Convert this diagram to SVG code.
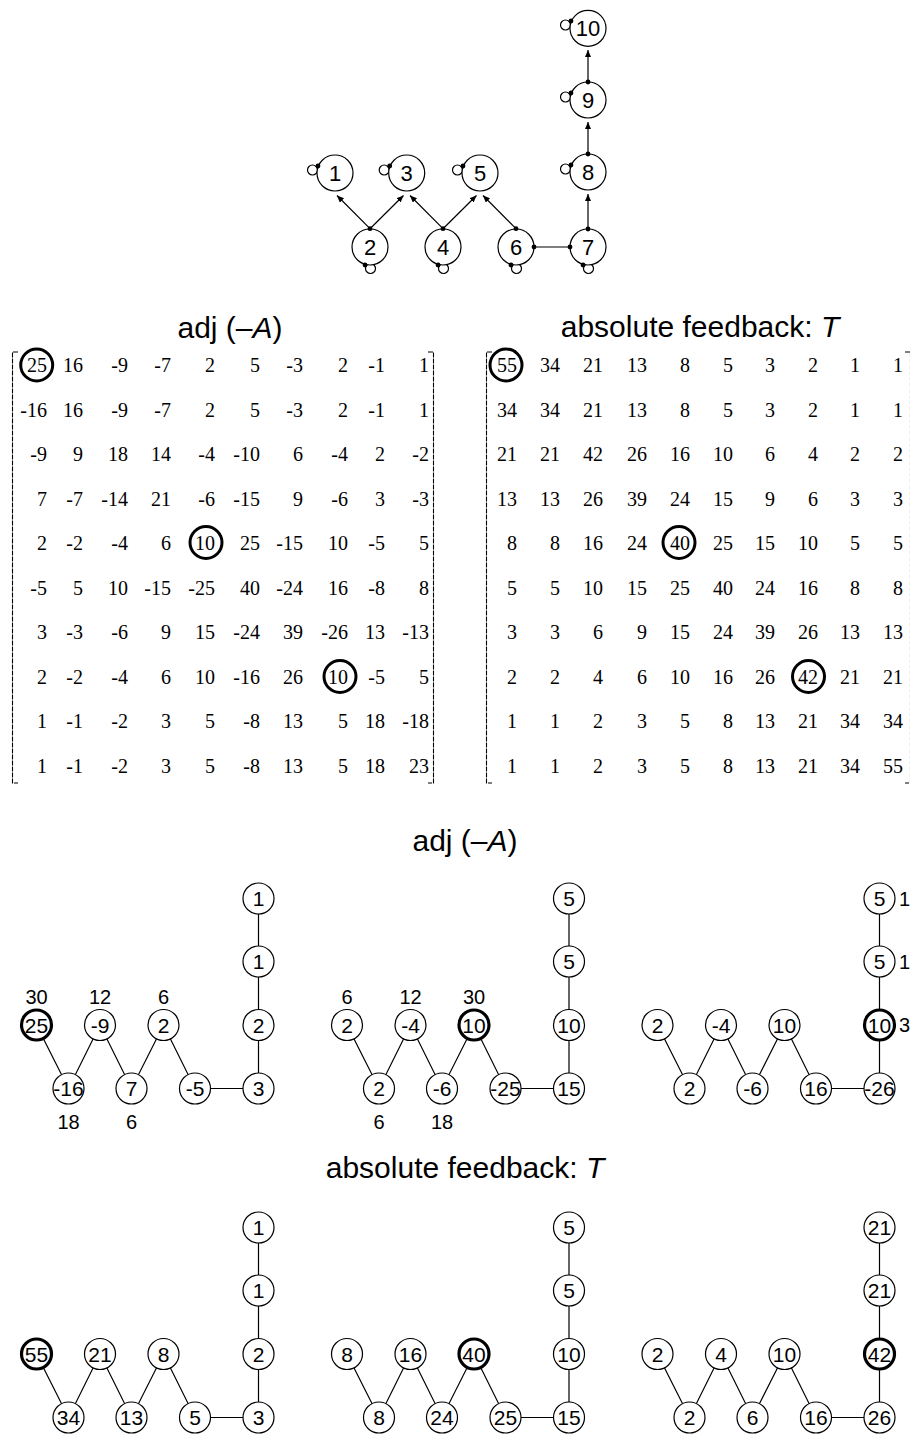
<svg xmlns="http://www.w3.org/2000/svg" width="910" height="1435" viewBox="0 0 910 1435">
<style>
.title{font-family:"Liberation Sans",Arial,sans-serif;font-size:30px;text-anchor:middle;fill:#000}
.nc{fill:#fff;stroke:#000;stroke-width:1.2}
.thick{fill:#fff;stroke:#000;stroke-width:3.2}
.nt{font-family:"Liberation Sans",Arial,sans-serif;font-size:21px;text-anchor:middle;fill:#000}
.tt{font-family:"Liberation Sans",Arial,sans-serif;font-size:22px;text-anchor:middle;fill:#000}
.lb{font-family:"Liberation Sans",Arial,sans-serif;font-size:20px;text-anchor:middle;fill:#000}
.lbl{font-family:"Liberation Sans",Arial,sans-serif;font-size:20px;fill:#000}
.e{stroke:#000;stroke-width:1.2;fill:none}
.loop{fill:none;stroke:#000;stroke-width:1.2}
.dot{fill:#000}
.mx{font-family:"Liberation Serif","Times New Roman",serif;font-size:20px;text-anchor:end;fill:#000}
.br{fill:none;stroke:#000;stroke-width:1.1;stroke-dasharray:5 1}
.ring{fill:none;stroke:#000;stroke-width:3}
</style>
<defs>
<marker id="arr" markerUnits="userSpaceOnUse" markerWidth="8" markerHeight="7" refX="7" refY="3" orient="auto">
<path d="M0,0 L7,3 L0,6 z" fill="#000"/>
</marker>
</defs>

<!-- ===== Top graph ===== -->
<g id="top-graph">
<g id="top-loops">
<circle class="loop" cx="312.5" cy="170" r="5"/>
<circle class="loop" cx="384.2" cy="170" r="5"/>
<circle class="loop" cx="457.5" cy="170" r="5"/>
<circle class="loop" cx="565.5" cy="169" r="5"/>
<circle class="loop" cx="565.5" cy="97" r="5"/>
<circle class="loop" cx="565.5" cy="25" r="5"/>
<circle class="loop" cx="370.5" cy="268.5" r="5"/>
<circle class="loop" cx="443.5" cy="268.5" r="5"/>
<circle class="loop" cx="516.5" cy="268.5" r="5"/>
<circle class="loop" cx="588.5" cy="268.5" r="5"/>
</g>
<g id="top-connectors">
<line class="e" x1="370" y1="228.7" x2="337" y2="195.5" marker-end="url(#arr)"/>
<line class="e" x1="370" y1="228.7" x2="403.5" y2="195.5" marker-end="url(#arr)"/>
<line class="e" x1="443" y1="228.7" x2="410" y2="195.5" marker-end="url(#arr)"/>
<line class="e" x1="443" y1="228.7" x2="476.5" y2="195.5" marker-end="url(#arr)"/>
<line class="e" x1="516" y1="228.7" x2="483" y2="195.5" marker-end="url(#arr)"/>
<line class="e" x1="534" y1="247" x2="570" y2="247"/>
<line class="e" x1="588" y1="229" x2="588" y2="194" marker-end="url(#arr)"/>
<line class="e" x1="588" y1="154" x2="588" y2="122" marker-end="url(#arr)"/>
<line class="e" x1="588" y1="82" x2="588" y2="50" marker-end="url(#arr)"/>
</g>
<g id="t1"><circle class="nc" cx="335" cy="173" r="18"/><text class="tt" x="335" y="181">1</text></g>
<g id="t2"><circle class="nc" cx="370" cy="247" r="18"/><text class="tt" x="370" y="255">2</text></g>
<g id="t3"><circle class="nc" cx="406.7" cy="173" r="18"/><text class="tt" x="406.7" y="181">3</text></g>
<g id="t4"><circle class="nc" cx="443" cy="247" r="18"/><text class="tt" x="443" y="255">4</text></g>
<g id="t5"><circle class="nc" cx="480" cy="173" r="18"/><text class="tt" x="480" y="181">5</text></g>
<g id="t6"><circle class="nc" cx="516" cy="247" r="18"/><text class="tt" x="516" y="255">6</text></g>
<g id="t7"><circle class="nc" cx="588" cy="247" r="18"/><text class="tt" x="588" y="255">7</text></g>
<g id="t8"><circle class="nc" cx="588" cy="172" r="18"/><text class="tt" x="588" y="180">8</text></g>
<g id="t9"><circle class="nc" cx="588" cy="100" r="18"/><text class="tt" x="588" y="108">9</text></g>
<g id="t10"><circle class="nc" cx="588" cy="28.3" r="18"/><text class="tt" x="588" y="36.3">10</text></g>
<g id="top-dots">
<circle class="dot" cx="370" cy="228.7" r="2.4"/>
<circle class="dot" cx="443" cy="228.7" r="2.4"/>
<circle class="dot" cx="516" cy="228.7" r="2.4"/>
<circle class="dot" cx="534" cy="247" r="2.4"/>
<circle class="dot" cx="570" cy="247" r="2.4"/>
<circle class="dot" cx="588" cy="229" r="2.4"/>
<circle class="dot" cx="588" cy="154" r="2.4"/>
<circle class="dot" cx="588" cy="82" r="2.4"/>
<circle class="dot" cx="318" cy="166" r="2.4"/>
<circle class="dot" cx="389.7" cy="166" r="2.4"/>
<circle class="dot" cx="463" cy="166" r="2.4"/>
<circle class="dot" cx="571" cy="165" r="2.4"/>
<circle class="dot" cx="571" cy="93" r="2.4"/>
<circle class="dot" cx="571" cy="21" r="2.4"/>
<circle class="dot" cx="365" cy="265" r="2.4"/>
<circle class="dot" cx="438" cy="265" r="2.4"/>
<circle class="dot" cx="511" cy="265" r="2.4"/>
<circle class="dot" cx="583" cy="265" r="2.4"/>
</g>
</g>

<!-- ===== Matrices ===== -->
<text class="title" x="230" y="338">adj (–<tspan font-style="italic">A</tspan>)</text>
<text class="title" x="700" y="337">absolute feedback: <tspan font-style="italic">T</tspan></text>

<g id="matrix-adj">
<path class="br" d="M18,352 H12.5 V783 H18"/>
<path class="br" d="M428,352 H433.5 V783 H428"/>
<text class="mx" y="372"><tspan x="47">25</tspan><tspan x="83">16</tspan><tspan x="128">-9</tspan><tspan x="171">-7</tspan><tspan x="215">2</tspan><tspan x="260">5</tspan><tspan x="303">-3</tspan><tspan x="348">2</tspan><tspan x="385">-1</tspan><tspan x="429">1</tspan></text>
<text class="mx" y="416.5"><tspan x="47">-16</tspan><tspan x="83">16</tspan><tspan x="128">-9</tspan><tspan x="171">-7</tspan><tspan x="215">2</tspan><tspan x="260">5</tspan><tspan x="303">-3</tspan><tspan x="348">2</tspan><tspan x="385">-1</tspan><tspan x="429">1</tspan></text>
<text class="mx" y="461"><tspan x="47">-9</tspan><tspan x="83">9</tspan><tspan x="128">18</tspan><tspan x="171">14</tspan><tspan x="215">-4</tspan><tspan x="260">-10</tspan><tspan x="303">6</tspan><tspan x="348">-4</tspan><tspan x="385">2</tspan><tspan x="429">-2</tspan></text>
<text class="mx" y="505.5"><tspan x="47">7</tspan><tspan x="83">-7</tspan><tspan x="128">-14</tspan><tspan x="171">21</tspan><tspan x="215">-6</tspan><tspan x="260">-15</tspan><tspan x="303">9</tspan><tspan x="348">-6</tspan><tspan x="385">3</tspan><tspan x="429">-3</tspan></text>
<text class="mx" y="550"><tspan x="47">2</tspan><tspan x="83">-2</tspan><tspan x="128">-4</tspan><tspan x="171">6</tspan><tspan x="215">10</tspan><tspan x="260">25</tspan><tspan x="303">-15</tspan><tspan x="348">10</tspan><tspan x="385">-5</tspan><tspan x="429">5</tspan></text>
<text class="mx" y="594.5"><tspan x="47">-5</tspan><tspan x="83">5</tspan><tspan x="128">10</tspan><tspan x="171">-15</tspan><tspan x="215">-25</tspan><tspan x="260">40</tspan><tspan x="303">-24</tspan><tspan x="348">16</tspan><tspan x="385">-8</tspan><tspan x="429">8</tspan></text>
<text class="mx" y="639"><tspan x="47">3</tspan><tspan x="83">-3</tspan><tspan x="128">-6</tspan><tspan x="171">9</tspan><tspan x="215">15</tspan><tspan x="260">-24</tspan><tspan x="303">39</tspan><tspan x="348">-26</tspan><tspan x="385">13</tspan><tspan x="429">-13</tspan></text>
<text class="mx" y="683.5"><tspan x="47">2</tspan><tspan x="83">-2</tspan><tspan x="128">-4</tspan><tspan x="171">6</tspan><tspan x="215">10</tspan><tspan x="260">-16</tspan><tspan x="303">26</tspan><tspan x="348">10</tspan><tspan x="385">-5</tspan><tspan x="429">5</tspan></text>
<text class="mx" y="728"><tspan x="47">1</tspan><tspan x="83">-1</tspan><tspan x="128">-2</tspan><tspan x="171">3</tspan><tspan x="215">5</tspan><tspan x="260">-8</tspan><tspan x="303">13</tspan><tspan x="348">5</tspan><tspan x="385">18</tspan><tspan x="429">-18</tspan></text>
<text class="mx" y="772.5"><tspan x="47">1</tspan><tspan x="83">-1</tspan><tspan x="128">-2</tspan><tspan x="171">3</tspan><tspan x="215">5</tspan><tspan x="260">-8</tspan><tspan x="303">13</tspan><tspan x="348">5</tspan><tspan x="385">18</tspan><tspan x="429">23</tspan></text>
<circle class="ring" cx="36.7" cy="365" r="16"/>
<circle class="ring" cx="206" cy="542.5" r="16"/>
<circle class="ring" cx="340" cy="676.5" r="16"/>
</g>

<g id="matrix-T">
<path class="br" d="M492,352 H486.5 V783 H492"/>
<path class="br" d="M905,352 H910.5 V783 H905"/>
<text class="mx" y="372"><tspan x="517">55</tspan><tspan x="560">34</tspan><tspan x="603">21</tspan><tspan x="647">13</tspan><tspan x="690">8</tspan><tspan x="733">5</tspan><tspan x="775">3</tspan><tspan x="818">2</tspan><tspan x="860">1</tspan><tspan x="903">1</tspan></text>
<text class="mx" y="416.5"><tspan x="517">34</tspan><tspan x="560">34</tspan><tspan x="603">21</tspan><tspan x="647">13</tspan><tspan x="690">8</tspan><tspan x="733">5</tspan><tspan x="775">3</tspan><tspan x="818">2</tspan><tspan x="860">1</tspan><tspan x="903">1</tspan></text>
<text class="mx" y="461"><tspan x="517">21</tspan><tspan x="560">21</tspan><tspan x="603">42</tspan><tspan x="647">26</tspan><tspan x="690">16</tspan><tspan x="733">10</tspan><tspan x="775">6</tspan><tspan x="818">4</tspan><tspan x="860">2</tspan><tspan x="903">2</tspan></text>
<text class="mx" y="505.5"><tspan x="517">13</tspan><tspan x="560">13</tspan><tspan x="603">26</tspan><tspan x="647">39</tspan><tspan x="690">24</tspan><tspan x="733">15</tspan><tspan x="775">9</tspan><tspan x="818">6</tspan><tspan x="860">3</tspan><tspan x="903">3</tspan></text>
<text class="mx" y="550"><tspan x="517">8</tspan><tspan x="560">8</tspan><tspan x="603">16</tspan><tspan x="647">24</tspan><tspan x="690">40</tspan><tspan x="733">25</tspan><tspan x="775">15</tspan><tspan x="818">10</tspan><tspan x="860">5</tspan><tspan x="903">5</tspan></text>
<text class="mx" y="594.5"><tspan x="517">5</tspan><tspan x="560">5</tspan><tspan x="603">10</tspan><tspan x="647">15</tspan><tspan x="690">25</tspan><tspan x="733">40</tspan><tspan x="775">24</tspan><tspan x="818">16</tspan><tspan x="860">8</tspan><tspan x="903">8</tspan></text>
<text class="mx" y="639"><tspan x="517">3</tspan><tspan x="560">3</tspan><tspan x="603">6</tspan><tspan x="647">9</tspan><tspan x="690">15</tspan><tspan x="733">24</tspan><tspan x="775">39</tspan><tspan x="818">26</tspan><tspan x="860">13</tspan><tspan x="903">13</tspan></text>
<text class="mx" y="683.5"><tspan x="517">2</tspan><tspan x="560">2</tspan><tspan x="603">4</tspan><tspan x="647">6</tspan><tspan x="690">10</tspan><tspan x="733">16</tspan><tspan x="775">26</tspan><tspan x="818">42</tspan><tspan x="860">21</tspan><tspan x="903">21</tspan></text>
<text class="mx" y="728"><tspan x="517">1</tspan><tspan x="560">1</tspan><tspan x="603">2</tspan><tspan x="647">3</tspan><tspan x="690">5</tspan><tspan x="733">8</tspan><tspan x="775">13</tspan><tspan x="818">21</tspan><tspan x="860">34</tspan><tspan x="903">34</tspan></text>
<text class="mx" y="772.5"><tspan x="517">1</tspan><tspan x="560">1</tspan><tspan x="603">2</tspan><tspan x="647">3</tspan><tspan x="690">5</tspan><tspan x="733">8</tspan><tspan x="775">13</tspan><tspan x="818">21</tspan><tspan x="860">34</tspan><tspan x="903">55</tspan></text>
<circle class="ring" cx="506" cy="365" r="16"/>
<circle class="ring" cx="679" cy="542.5" r="16"/>
<circle class="ring" cx="808.5" cy="676.5" r="16"/>
</g>

<!-- ===== Middle section: adj(-A) graphs ===== -->
<text class="title" x="465" y="851">adj (–<tspan font-style="italic">A</tspan>)</text>

<g id="panel-a1">
<g id="a1-connectors">
<polyline class="e" points="36.5,1025 68.5,1088.5 100,1025 131.5,1088.5 163.5,1025 195,1088.5 258.5,1088.5 258.5,898.5"/>
</g>
<g id="a1-n1"><circle class="thick" cx="36.5" cy="1025" r="15"/><text class="nt" x="36.5" y="1032.5">25</text></g>
<g id="a1-n2"><circle class="nc" cx="68.5" cy="1088.5" r="15.5"/><text class="nt" x="68.5" y="1096">-16</text></g>
<g id="a1-n3"><circle class="nc" cx="100" cy="1025" r="15.5"/><text class="nt" x="100" y="1032.5">-9</text></g>
<g id="a1-n4"><circle class="nc" cx="131.5" cy="1088.5" r="15.5"/><text class="nt" x="131.5" y="1096">7</text></g>
<g id="a1-n5"><circle class="nc" cx="163.5" cy="1025" r="15.5"/><text class="nt" x="163.5" y="1032.5">2</text></g>
<g id="a1-n6"><circle class="nc" cx="195" cy="1088.5" r="15.5"/><text class="nt" x="195" y="1096">-5</text></g>
<g id="a1-n7"><circle class="nc" cx="258.5" cy="1088.5" r="15.5"/><text class="nt" x="258.5" y="1096">3</text></g>
<g id="a1-n8"><circle class="nc" cx="258.5" cy="1025" r="15.5"/><text class="nt" x="258.5" y="1032.5">2</text></g>
<g id="a1-n9"><circle class="nc" cx="258.5" cy="961.5" r="15.5"/><text class="nt" x="258.5" y="969">1</text></g>
<g id="a1-n10"><circle class="nc" cx="258.5" cy="898.5" r="15.5"/><text class="nt" x="258.5" y="906">1</text></g>
<g id="a1-labels">
<text class="lb" x="36.5" y="1004">30</text>
<text class="lb" x="100" y="1004">12</text>
<text class="lb" x="163.5" y="1004">6</text>
<text class="lb" x="68.5" y="1129">18</text>
<text class="lb" x="131.5" y="1129">6</text>
</g>
</g>

<g id="panel-a2">
<g id="a2-connectors">
<polyline class="e" points="347,1025 379,1088.5 410.5,1025 442,1088.5 474,1025 505.5,1088.5 569,1088.5 569,898.5"/>
</g>
<g id="a2-n1"><circle class="nc" cx="347" cy="1025" r="15.5"/><text class="nt" x="347" y="1032.5">2</text></g>
<g id="a2-n2"><circle class="nc" cx="379" cy="1088.5" r="15.5"/><text class="nt" x="379" y="1096">2</text></g>
<g id="a2-n3"><circle class="nc" cx="410.5" cy="1025" r="15.5"/><text class="nt" x="410.5" y="1032.5">-4</text></g>
<g id="a2-n4"><circle class="nc" cx="442" cy="1088.5" r="15.5"/><text class="nt" x="442" y="1096">-6</text></g>
<g id="a2-n5"><circle class="thick" cx="474" cy="1025" r="15"/><text class="nt" x="474" y="1032.5">10</text></g>
<g id="a2-n6"><circle class="nc" cx="505.5" cy="1088.5" r="15.5"/><text class="nt" x="505.5" y="1096">-25</text></g>
<g id="a2-n7"><circle class="nc" cx="569" cy="1088.5" r="15.5"/><text class="nt" x="569" y="1096">15</text></g>
<g id="a2-n8"><circle class="nc" cx="569" cy="1025" r="15.5"/><text class="nt" x="569" y="1032.5">10</text></g>
<g id="a2-n9"><circle class="nc" cx="569" cy="961.5" r="15.5"/><text class="nt" x="569" y="969">5</text></g>
<g id="a2-n10"><circle class="nc" cx="569" cy="898.5" r="15.5"/><text class="nt" x="569" y="906">5</text></g>
<g id="a2-labels">
<text class="lb" x="347" y="1004">6</text>
<text class="lb" x="410.5" y="1004">12</text>
<text class="lb" x="474" y="1004">30</text>
<text class="lb" x="379" y="1129">6</text>
<text class="lb" x="442" y="1129">18</text>
</g>
</g>

<g id="panel-a3">
<g id="a3-connectors">
<polyline class="e" points="657.5,1025 689.5,1088.5 721,1025 752.5,1088.5 784.5,1025 816,1088.5 879.5,1088.5 879.5,898.5"/>
</g>
<g id="a3-n1"><circle class="nc" cx="657.5" cy="1025" r="15.5"/><text class="nt" x="657.5" y="1032.5">2</text></g>
<g id="a3-n2"><circle class="nc" cx="689.5" cy="1088.5" r="15.5"/><text class="nt" x="689.5" y="1096">2</text></g>
<g id="a3-n3"><circle class="nc" cx="721" cy="1025" r="15.5"/><text class="nt" x="721" y="1032.5">-4</text></g>
<g id="a3-n4"><circle class="nc" cx="752.5" cy="1088.5" r="15.5"/><text class="nt" x="752.5" y="1096">-6</text></g>
<g id="a3-n5"><circle class="nc" cx="784.5" cy="1025" r="15.5"/><text class="nt" x="784.5" y="1032.5">10</text></g>
<g id="a3-n6"><circle class="nc" cx="816" cy="1088.5" r="15.5"/><text class="nt" x="816" y="1096">16</text></g>
<g id="a3-n7"><circle class="nc" cx="879.5" cy="1088.5" r="15.5"/><text class="nt" x="879.5" y="1096">-26</text></g>
<g id="a3-n8"><circle class="thick" cx="879.5" cy="1025" r="15"/><text class="nt" x="879.5" y="1032.5">10</text></g>
<g id="a3-n9"><circle class="nc" cx="879.5" cy="961.5" r="15.5"/><text class="nt" x="879.5" y="969">5</text></g>
<g id="a3-n10"><circle class="nc" cx="879.5" cy="898.5" r="15.5"/><text class="nt" x="879.5" y="906">5</text></g>
<g id="a3-labels">
<text class="lbl" x="899" y="905.5">1</text>
<text class="lbl" x="899" y="968.5">1</text>
<text class="lbl" x="899" y="1032">3</text>
</g>
</g>

<!-- ===== Bottom section: T graphs ===== -->
<text class="title" x="465" y="1178">absolute feedback: <tspan font-style="italic">T</tspan></text>

<g id="panel-b1">
<g id="b1-connectors">
<polyline class="e" points="36.5,1354 68.5,1417.5 100,1354 131.5,1417.5 163.5,1354 195,1417.5 258.5,1417.5 258.5,1227.5"/>
</g>
<g id="b1-n1"><circle class="thick" cx="36.5" cy="1354" r="15"/><text class="nt" x="36.5" y="1361.5">55</text></g>
<g id="b1-n2"><circle class="nc" cx="68.5" cy="1417.5" r="15.5"/><text class="nt" x="68.5" y="1425">34</text></g>
<g id="b1-n3"><circle class="nc" cx="100" cy="1354" r="15.5"/><text class="nt" x="100" y="1361.5">21</text></g>
<g id="b1-n4"><circle class="nc" cx="131.5" cy="1417.5" r="15.5"/><text class="nt" x="131.5" y="1425">13</text></g>
<g id="b1-n5"><circle class="nc" cx="163.5" cy="1354" r="15.5"/><text class="nt" x="163.5" y="1361.5">8</text></g>
<g id="b1-n6"><circle class="nc" cx="195" cy="1417.5" r="15.5"/><text class="nt" x="195" y="1425">5</text></g>
<g id="b1-n7"><circle class="nc" cx="258.5" cy="1417.5" r="15.5"/><text class="nt" x="258.5" y="1425">3</text></g>
<g id="b1-n8"><circle class="nc" cx="258.5" cy="1354" r="15.5"/><text class="nt" x="258.5" y="1361.5">2</text></g>
<g id="b1-n9"><circle class="nc" cx="258.5" cy="1290.5" r="15.5"/><text class="nt" x="258.5" y="1298">1</text></g>
<g id="b1-n10"><circle class="nc" cx="258.5" cy="1227.5" r="15.5"/><text class="nt" x="258.5" y="1235">1</text></g>
</g>

<g id="panel-b2">
<g id="b2-connectors">
<polyline class="e" points="347,1354 379,1417.5 410.5,1354 442,1417.5 474,1354 505.5,1417.5 569,1417.5 569,1227.5"/>
</g>
<g id="b2-n1"><circle class="nc" cx="347" cy="1354" r="15.5"/><text class="nt" x="347" y="1361.5">8</text></g>
<g id="b2-n2"><circle class="nc" cx="379" cy="1417.5" r="15.5"/><text class="nt" x="379" y="1425">8</text></g>
<g id="b2-n3"><circle class="nc" cx="410.5" cy="1354" r="15.5"/><text class="nt" x="410.5" y="1361.5">16</text></g>
<g id="b2-n4"><circle class="nc" cx="442" cy="1417.5" r="15.5"/><text class="nt" x="442" y="1425">24</text></g>
<g id="b2-n5"><circle class="thick" cx="474" cy="1354" r="15"/><text class="nt" x="474" y="1361.5">40</text></g>
<g id="b2-n6"><circle class="nc" cx="505.5" cy="1417.5" r="15.5"/><text class="nt" x="505.5" y="1425">25</text></g>
<g id="b2-n7"><circle class="nc" cx="569" cy="1417.5" r="15.5"/><text class="nt" x="569" y="1425">15</text></g>
<g id="b2-n8"><circle class="nc" cx="569" cy="1354" r="15.5"/><text class="nt" x="569" y="1361.5">10</text></g>
<g id="b2-n9"><circle class="nc" cx="569" cy="1290.5" r="15.5"/><text class="nt" x="569" y="1298">5</text></g>
<g id="b2-n10"><circle class="nc" cx="569" cy="1227.5" r="15.5"/><text class="nt" x="569" y="1235">5</text></g>
</g>

<g id="panel-b3">
<g id="b3-connectors">
<polyline class="e" points="657.5,1354 689.5,1417.5 721,1354 752.5,1417.5 784.5,1354 816,1417.5 879.5,1417.5 879.5,1227.5"/>
</g>
<g id="b3-n1"><circle class="nc" cx="657.5" cy="1354" r="15.5"/><text class="nt" x="657.5" y="1361.5">2</text></g>
<g id="b3-n2"><circle class="nc" cx="689.5" cy="1417.5" r="15.5"/><text class="nt" x="689.5" y="1425">2</text></g>
<g id="b3-n3"><circle class="nc" cx="721" cy="1354" r="15.5"/><text class="nt" x="721" y="1361.5">4</text></g>
<g id="b3-n4"><circle class="nc" cx="752.5" cy="1417.5" r="15.5"/><text class="nt" x="752.5" y="1425">6</text></g>
<g id="b3-n5"><circle class="nc" cx="784.5" cy="1354" r="15.5"/><text class="nt" x="784.5" y="1361.5">10</text></g>
<g id="b3-n6"><circle class="nc" cx="816" cy="1417.5" r="15.5"/><text class="nt" x="816" y="1425">16</text></g>
<g id="b3-n7"><circle class="nc" cx="879.5" cy="1417.5" r="15.5"/><text class="nt" x="879.5" y="1425">26</text></g>
<g id="b3-n8"><circle class="thick" cx="879.5" cy="1354" r="15"/><text class="nt" x="879.5" y="1361.5">42</text></g>
<g id="b3-n9"><circle class="nc" cx="879.5" cy="1290.5" r="15.5"/><text class="nt" x="879.5" y="1298">21</text></g>
<g id="b3-n10"><circle class="nc" cx="879.5" cy="1227.5" r="15.5"/><text class="nt" x="879.5" y="1235">21</text></g>
</g>
</svg>
